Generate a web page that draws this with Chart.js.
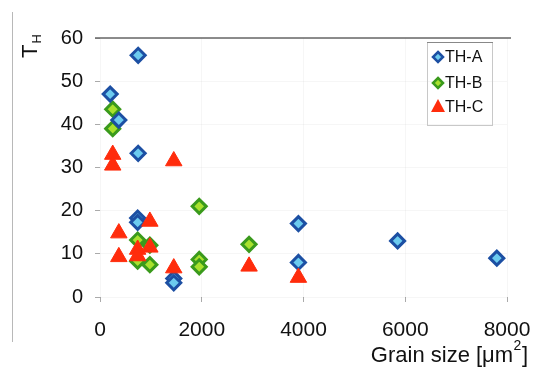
<!DOCTYPE html>
<html>
<head>
<meta charset="utf-8">
<script src="https://cdn.jsdelivr.net/npm/chart.js@4/dist/chart.umd.min.js"></script>
<style>
    html, body { margin: 0; padding: 0; background: #fff; }
    #box { position: relative; width: 533px; height: 372px; }
</style>
</head>
<body>
<div id="box"><canvas id="myChart" width="533" height="372"></canvas></div>
<script>
// data
const aX = [200, 750, 370, 750, 740, 740, 1450, 1450, 3900, 3900, 5850, 7800];
const aY = [47, 56, 41, 33.3, 18.3, 17.3, 4.3, 3.3, 17, 8, 13, 9];

const bX = [250, 250, 1950, 740, 980, 740, 980, 1950, 1950, 2930];
const bY = [43.5, 39, 21, 13.2, 12, 8.3, 7.5, 8.7, 7, 12.2];

const cX = [250, 250, 1450, 980, 370, 370, 740, 740, 980, 1450, 2930, 3900];
const cY = [33, 30.5, 31.5, 17.5, 14.8, 9.3, 11, 9.5, 11.5, 6.7, 7.1, 4.5];

const seriesNames = ['TH-A', 'TH-B', 'TH-C'];
const xTicks = [0, 2000, 4000, 6000, 8000];
const yTicks = [0, 10, 20, 30, 40, 50, 60];

function pts(xs, ys) {
    var out = [];
    for (var i = 0; i < xs.length; i++) {
        out.push({x: xs[i], y: ys[i]});
    }
    return out;
}

const blueFill = '#6ccbef', blueLine = '#1c4fa3';
const greenFill = '#a9e12e', greenLine = '#3a9a1c';
const red = '#ff2c0c';

// titles, legend, frame line
const extras = {
    id: 'extras',
    afterDraw(chart) {
        const c = chart.ctx;
        const area = chart.chartArea;
        c.save();

        // scan edge on the left
        c.strokeStyle = '#b8b8b8';
        c.lineWidth = 1;
        c.beginPath();
        c.moveTo(12.5, 12);
        c.lineTo(12.5, 342);
        c.stroke();

        // top frame line
        c.strokeStyle = '#666';
        c.lineWidth = 1.5;
        c.beginPath();
        c.moveTo(95, area.top);
        c.lineTo(511, area.top);
        c.stroke();

        c.fillStyle = '#111';
        c.textBaseline = 'alphabetic';

        // x title
        c.font = '22px "Liberation Sans", Arial, sans-serif';
        c.textAlign = 'left';
        var t1 = 'Grain size [\u03bcm';
        var w1 = c.measureText(t1).width;
        c.font = '14px "Liberation Sans", Arial, sans-serif';
        var w2 = c.measureText('2').width;
        c.font = '22px "Liberation Sans", Arial, sans-serif';
        var w3 = c.measureText(']').width;
        var x0 = 528 - (w1 + w2 + w3 + 1);
        c.fillText(t1, x0, 362);
        c.font = '14px "Liberation Sans", Arial, sans-serif';
        c.fillText('2', x0 + w1 + 0.5, 350);
        c.font = '22px "Liberation Sans", Arial, sans-serif';
        c.fillText(']', x0 + w1 + w2 + 1, 362);

        // y title T with subscript H
        c.translate(37, 58);
        c.rotate(-Math.PI / 2);
        c.font = '22px "Liberation Sans", Arial, sans-serif';
        c.fillText('T', 0, 0);
        var tw = c.measureText('T').width;
        c.font = '13px "Liberation Sans", Arial, sans-serif';
        c.fillText('H', tw + 1, 4);
        c.setTransform(1, 0, 0, 1, 0, 0);

        // legend box
        c.strokeStyle = '#c8c8c8';
        c.lineWidth = 1;
        c.strokeRect(427.5, 42.5, 65, 83);
        c.strokeStyle = '#888';
        c.beginPath();
        c.moveTo(427, 42.5);
        c.lineTo(493, 42.5);
        c.stroke();

        var rows = [57, 83, 107];
        c.font = '16px "Liberation Sans", Arial, sans-serif';
        c.textBaseline = 'middle';
        for (var i = 0; i < 3; i++) {
            var cx = 438, cy = rows[i];
            c.beginPath();
            if (i < 2) {
                var r = 5;
                c.moveTo(cx, cy - r);
                c.lineTo(cx + r, cy);
                c.lineTo(cx, cy + r);
                c.lineTo(cx - r, cy);
                c.closePath();
                c.fillStyle = i == 0 ? blueFill : greenFill;
                c.fill();
                c.lineWidth = 2.5;
                c.strokeStyle = i == 0 ? blueLine : greenLine;
                c.stroke();
            } else {
                c.moveTo(cx, cy - 8);
                c.lineTo(cx + 7, cy + 5);
                c.lineTo(cx - 7, cy + 5);
                c.closePath();
                c.fillStyle = red;
                c.fill();
            }
            c.fillStyle = '#111';
            c.fillText(seriesNames[i], 445, cy + 1);
        }
        c.restore();
    }
};

const ctx = document.getElementById('myChart').getContext('2d');
const myChart = new Chart(ctx, {
    type: 'scatter',
    data: {
        datasets: [{
            label: seriesNames[0],
            data: pts(aX, aY),
            pointStyle: 'rectRot',
            pointRadius: 7,
            pointBorderWidth: 3,
            backgroundColor: blueFill,
            borderColor: blueLine,
            order: 1
        }, {
            label: seriesNames[1],
            data: pts(bX, bY),
            pointStyle: 'rectRot',
            pointRadius: 7,
            pointBorderWidth: 3,
            backgroundColor: greenFill,
            borderColor: greenLine,
            order: 2
        }, {
            label: seriesNames[2],
            data: pts(cX, cY),
            pointStyle: 'triangle',
            pointRadius: 9.5,
            pointBorderWidth: 1,
            backgroundColor: red,
            borderColor: red,
            order: 0
        }]
    },
    options: {
        responsive: false,
        animation: false,
        layout: {
            padding: {top: 38, right: 26, left: 0, bottom: 0}
        },
        plugins: {
            legend: {display: false},
            tooltip: {enabled: false}
        },
        scales: {
            x: {
                type: 'linear',
                min: 0,
                max: 8000,
                afterFit: function (s) { s.height = 75; s.paddingRight = 0; s.paddingLeft = 0; },
                afterBuildTicks: function (s) { s.ticks = xTicks.map(v => ({value: v})); },
                border: {display: false},
                grid: {color: 'rgba(0,0,0,0.035)', tickColor: '#aaa', tickLength: 5},
                ticks: {
                    padding: 16,
                    color: '#111',
                    font: {family: '"Liberation Sans", Arial, sans-serif', size: 21},
                    callback: function (v) { return String(v); }
                }
            },
            y: {
                min: 0,
                max: 60,
                afterFit: function (s) { s.width = 100; },
                afterBuildTicks: function (s) { s.ticks = yTicks.map(v => ({value: v})); },
                border: {display: false},
                grid: {color: 'rgba(0,0,0,0.035)', tickColor: '#aaa', tickLength: 5},
                ticks: {
                    padding: 12,
                    color: '#111',
                    font: {family: '"Liberation Sans", Arial, sans-serif', size: 20},
                    callback: function (v) { return String(v); }
                }
            }
        }
    },
    plugins: [extras]
});
</script>
</body>
</html>
